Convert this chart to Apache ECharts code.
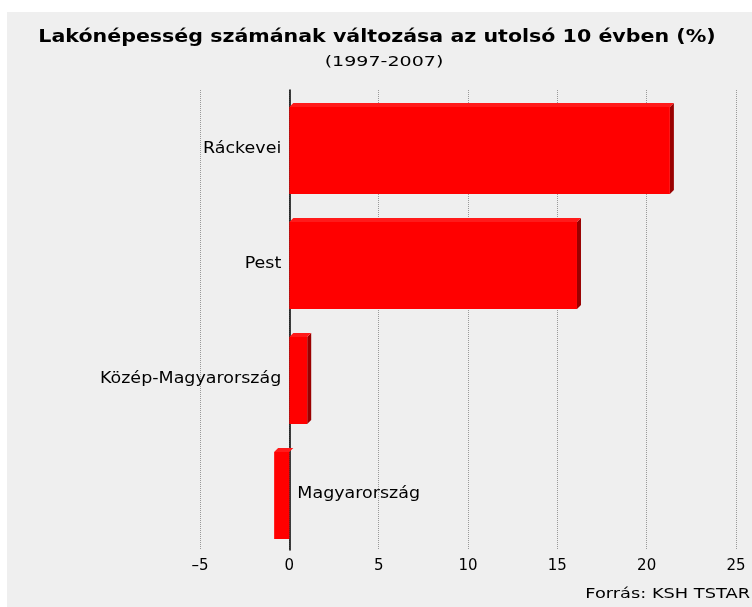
<!DOCTYPE html>
<html>
<head>
    <meta charset="utf-8">
    <script src="https://cdn.jsdelivr.net/npm/echarts@6/dist/echarts.min.js"></script>
    <style>
        html, body { margin: 0; padding: 0; background: #ffffff; }
    </style>
</head>
<body>
    <div id="main" style="width: 752px;height:607px;"></div>
    <script>
        // kategoriak es ertekek (%)
        var categories = ['Ráckevei', 'Pest', 'Közép-Magyarország', 'Magyarország'];
        var values = [21.3, 16.1, 1.0, -0.85];
        var xTicks = [-5, 0, 5, 10, 15, 20, 25];
        var titleText = 'Lakónépesség számának változása az utolsó 10 évben (%)';
        var subtitleText = '(1997-2007)';
        var sourceText = 'Forrás: KSH TSTAR';

        var myChart = echarts.init(document.getElementById('main'));

        var seriesData = values.map(function (v, i) {
            return [v, i];
        });

        // a referencia betui szelesebbek, ezert vizszintesen nyujtjuk
        function wideText(text, x, y, font, align, sx) {
            return {
                type: 'text',
                x: x, y: y,
                scaleX: sx,
                style: { text: text, x: 0, y: 0, font: font, fill: '#000', align: align, verticalAlign: 'middle' }
            };
        }

        var option = {
            backgroundColor: '#ffffff',
            animation: false,
            graphic: [{
                type: 'rect',
                x: 7, y: 12,
                shape: { width: 745, height: 595 },
                style: { fill: '#efefef' },
                z: -10
            },
                wideText(titleText, 377, 38, 'bold 17px "DejaVu Sans"', 'center', 1.21),
                wideText(subtitleText, 384, 62, '14px "DejaVu Sans"', 'center', 1.36),
                wideText(sourceText, 750, 594, '14px "DejaVu Sans"', 'right', 1.27)
            ],
            grid: { left: 200, right: 16, top: 90, bottom: 57 },
            xAxis: {
                type: 'value',
                min: xTicks[0],
                max: xTicks[xTicks.length - 1],
                interval: 5,
                axisLine: { onZero: false, lineStyle: { color: '#000', width: 1 } },
                axisTick: { show: false },
                axisLabel: {
                    fontFamily: 'DejaVu Sans', fontSize: 15, color: '#000', margin: 9,
                    formatter: function (v) { return String(v).replace('-', '–'); }
                },
                splitLine: { show: true, lineStyle: { color: '#999999', type: [1, 1], width: 1 } }
            },
            yAxis: {
                type: 'category',
                data: categories,
                inverse: true,
                axisLine: { show: true, onZero: true, lineStyle: { color: '#000', width: 1.5 } },
                axisTick: { show: false },
                axisLabel: { show: false },
                splitLine: { show: false }
            },
            series: [{
                type: 'custom',
                data: seriesData,
                encode: { x: 0, y: 1 },
                z: 1,
                renderItem: function (params, api) {
                    var v = api.value(0);
                    var c = api.value(1);
                    var start = api.coord([0, c]);
                    var end = api.coord([v, c]);
                    var h = api.size([0, 1])[1] * 0.79;
                    var d = 4;
                    var x0 = Math.min(start[0], end[0]);
                    var x1 = Math.max(start[0], end[0]);
                    var y0 = start[1] - h / 2 + 1;
                    var y1 = start[1] + h / 2 + 1;
                    var label = v >= 0
                        ? { x: start[0] - 8, align: 'right' }
                        : { x: start[0] + 8, align: 'left' };
                    var children = [];
                    if (v >= 0) {
                        children.push({
                            type: 'polygon',
                            shape: { points: [[x1, y0 + d], [x1 + d, y0], [x1 + d, y1 - d], [x1, y1]] },
                            style: { fill: '#990000' }
                        });
                    }
                    children.push({
                        type: 'polygon',
                        shape: { points: [[x0, y0 + d], [x0 + d, y0], [x1 + d, y0], [x1, y0 + d]] },
                        style: { fill: '#ff1a1a' }
                    }, {
                        type: 'rect',
                        shape: { x: x0, y: y0 + d, width: x1 - x0, height: y1 - y0 - d },
                        style: { fill: '#ff0000' }
                    }, {
                        type: 'text',
                        x: label.x,
                        y: start[1] + 1,
                        scaleX: 1.06,
                        style: {
                            text: categories[c],
                            x: 0, y: 0,
                            align: label.align,
                            verticalAlign: 'middle',
                            font: '16.5px "DejaVu Sans"',
                            fill: '#000'
                        }
                    });
                    return { type: 'group', children: children };
                }
            }]
        };

        myChart.setOption(option);
    </script>
</body>
</html>
